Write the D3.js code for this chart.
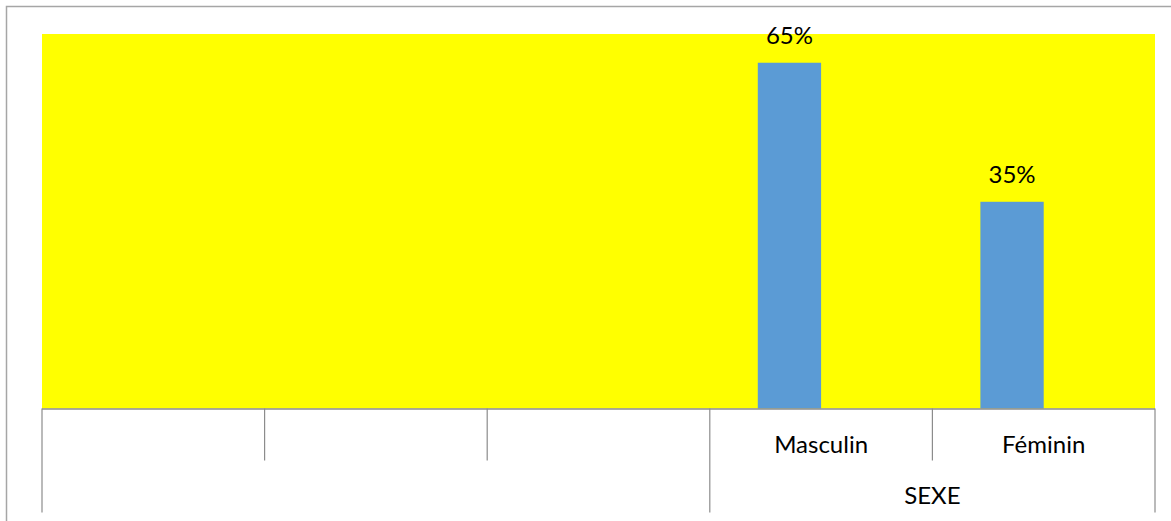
<!DOCTYPE html>
<html>
<head>
<meta charset="utf-8">
<script src="https://cdn.jsdelivr.net/npm/d3@7"></script>
<style>
  html, body { margin: 0; padding: 0; background: #fff; }
  svg { display: block; }
  text { font-family: Lato, "Open Sans", sans-serif; fill: #000; }
</style>
</head>
<body>
<svg id="chart" width="1171" height="521"></svg>
<script>
// ---- data ----
const categories = ["", "", "", "Masculin", "Féminin"];
const groups = ["", "SEXE"];
const categoryGroup = [0, 0, 0, 1, 1];
const seriesNames = ["Pourcentage", "Série 2"];
const series1 = [null, null, null, 0.65, 0.35];
const series2 = [null, null, null, null, null];
const labelTexts = ["", "", "", "65%", "35%"];
// visual axis range
const yMin = -0.096, yMax = 0.712;

// ---- layout ----
const W = 1171, H = 521;
const plot = { left: 42, right: 1155, top: 34, bottom: 408.5 };
const svg = d3.select("#chart");

// outer frame
svg.append("path")
  .attr("d", `M6.5,${H} V6.5 H${W}`)
  .attr("fill", "none").attr("stroke", "#a6a6a6").attr("stroke-width", 1.5);

// plot area
svg.append("rect")
  .attr("x", plot.left).attr("y", plot.top)
  .attr("width", plot.right - plot.left).attr("height", plot.bottom - plot.top)
  .attr("fill", "#ffff00");

const idx = categories.map((c, i) => i);
const x = d3.scaleBand().domain(idx).range([plot.left, plot.right]).paddingInner(0).paddingOuter(0);
const xs = d3.scaleBand().domain(seriesNames).range([0, x.bandwidth()]).paddingInner(0).paddingOuter(0.758);
const y = d3.scaleLinear().domain([yMin, yMax]).range([plot.bottom, plot.top]);

const seriesData = [series1, series2];
seriesData.forEach((vals, si) => {
  const data = vals.map((v, i) => ({ i, v })).filter(d => d.v != null);
  svg.append("g").selectAll("rect").data(data).join("rect")
    .attr("x", d => x(d.i) + xs(seriesNames[si]))
    .attr("width", xs.bandwidth())
    .attr("y", d => y(d.v))
    .attr("height", d => plot.bottom - y(d.v))
    .attr("fill", "#5b9bd5");
  if (si === 0) {
    svg.append("g").selectAll("text").data(data).join("text")
      .attr("x", d => x(d.i) + xs(seriesNames[si]) + xs.bandwidth() / 2)
      .attr("y", d => y(d.v) - 19)
      .attr("text-anchor", "middle")
      .attr("font-size", 24)
      .text(d => labelTexts[d.i]);
  }
});

// category axis
const axisG = svg.append("g");
axisG.append("line")
  .attr("x1", plot.left).attr("x2", plot.right)
  .attr("y1", plot.bottom + 0.5).attr("y2", plot.bottom + 0.5)
  .attr("stroke", "#8c8c8c").attr("stroke-width", 1.5);

const level1Bottom = 460.5, level2Bottom = 512.5;
// boundaries
const bounds = idx.map(i => x(i)).concat([plot.right]);
bounds.forEach((bx, k) => {
  const isGroupEdge = k === 0 || k === bounds.length - 1 || categoryGroup[k] !== categoryGroup[k - 1];
  axisG.append("line")
    .attr("x1", bx).attr("x2", bx)
    .attr("y1", plot.bottom).attr("y2", isGroupEdge ? level2Bottom : level1Bottom)
    .attr("stroke", "#8c8c8c").attr("stroke-width", 1.2);
});

axisG.selectAll("text.cat").data(idx).join("text")
  .attr("class", "cat")
  .attr("x", i => x(i) + x.bandwidth() / 2)
  .attr("y", 452.5)
  .attr("text-anchor", "middle")
  .attr("font-size", 24)
  .text(i => categories[i]);

groups.forEach((g, gi) => {
  const members = idx.filter(i => categoryGroup[i] === gi);
  const gx0 = x(members[0]), gx1 = x(members[members.length - 1]) + x.bandwidth();
  axisG.append("text")
    .attr("x", (gx0 + gx1) / 2)
    .attr("y", 503.5)
    .attr("text-anchor", "middle")
    .attr("font-size", 24)
    .text(g);
});
</script>
</body>
</html>
